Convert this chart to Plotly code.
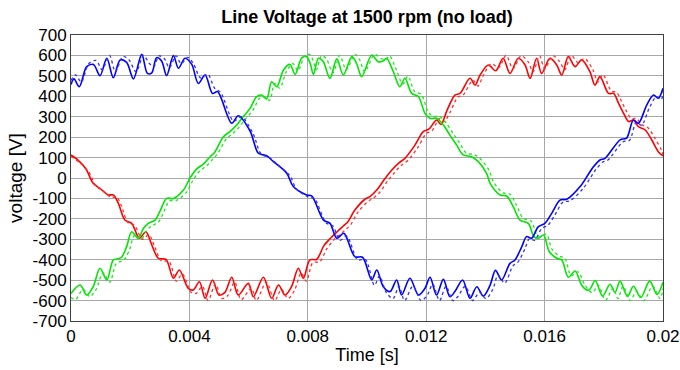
import numpy as np
import plotly.graph_objects as go

# Line voltages, three phases: solid = measured, dotted = simulated.
# Time in milliseconds, voltage in volts.

blue_t = [0.00, 0.10, 0.28, 0.53, 0.76, 0.98, 1.21, 1.43, 1.66, 1.88, 2.11, 2.39, 2.58, 2.73, 2.89,
          3.06, 3.23, 3.46, 3.63, 3.85, 4.08, 4.30, 4.53, 4.78, 4.95, 5.43, 5.65, 6.05, 6.33, 6.61,
          6.84, 7.29, 7.51, 7.96, 8.13, 8.53, 8.75, 8.98, 9.22, 9.59, 9.85, 10.16, 10.33, 10.55,
          10.78, 11.00, 11.17, 11.45, 11.74, 11.96, 12.13, 12.35, 12.58, 12.80, 12.97, 13.23, 13.48,
          13.71, 13.93, 14.16, 14.34, 14.55, 14.83, 15.00, 15.23, 15.39, 15.56, 15.79, 16.01, 16.24,
          16.52, 16.75, 17.20, 17.50, 17.65, 17.87, 18.04, 18.55, 18.77, 19.00, 19.17, 19.45, 19.68,
          19.84, 20.00]
blue_v = [458, 485, 447, 545, 556, 501, 586, 491, 578, 566, 485, 605, 512, 515, 589,
          573, 501, 599, 537, 586, 556, 463, 504, 414, 423, 268, 305, 230, 121, 109,
          80, 23, -42, -83, -88, -206, -222, -295, -271, -385, -388, -499, -450, -532,
          -556, -499, -573, -491, -573, -540, -486, -573, -496, -581, -556, -499, -589,
          -532, -578, -524, -452, -499, -418, -401, -336, -287, -295, -238, -222, -173,
          -108, -104, -42, 23, 55, 88, 96, 187, 195, 284, 268, 357, 406,
          390, 439]

blue_sim_t = [0.00, 0.15, 0.35, 0.60, 0.85, 1.05, 1.30, 1.50, 1.75, 1.95, 2.20, 2.45, 2.65, 2.80, 2.97,
              3.15, 3.32, 3.55, 3.72, 3.95, 4.15, 4.38, 4.62, 4.85, 5.05, 5.50, 5.75, 6.15, 6.42, 6.70,
              6.95, 7.40, 7.62, 8.05, 8.22, 8.62, 8.85, 9.08, 9.32, 9.68, 9.95, 10.25, 10.42, 10.65,
              10.88, 11.08, 11.27, 11.55, 11.83, 12.05, 12.22, 12.45, 12.67, 12.90, 13.07, 13.32, 13.57,
              13.80, 14.02, 14.25, 14.43, 14.65, 14.93, 15.10, 15.33, 15.49, 15.66, 15.90, 16.11, 16.34,
              16.62, 16.85, 17.30, 17.60, 17.75, 17.97, 18.14, 18.65, 18.87, 19.10, 19.27, 19.55, 19.78,
              19.94, 20.00]
blue_sim_v = [478, 505, 470, 560, 575, 530, 600, 520, 595, 580, 520, 600, 560, 545, 598,
              585, 540, 598, 560, 590, 555, 490, 508, 440, 420, 278, 300, 218, 118, 100,
              70, 10, -55, -95, -100, -220, -235, -305, -285, -400, -400, -525, -480, -560,
              -590, -530, -600, -530, -600, -570, -520, -600, -530, -600, -580, -530, -600,
              -560, -590, -545, -475, -515, -430, -412, -348, -297, -305, -248, -232, -183,
              -118, -112, -52, 13, 45, 78, 88, 177, 185, 274, 258, 347, 398,
              385, 420]

red_t = [0.00, 0.20, 0.50, 0.75, 0.98, 1.26, 1.43, 1.60, 1.82, 2.05, 2.31, 2.53, 2.73, 2.95, 3.21,
         3.46, 3.66, 3.96, 4.13, 4.34, 4.53, 4.78, 5.00, 5.20, 5.43, 5.65, 5.99, 6.16, 6.50, 6.78,
         7.01, 7.23, 7.45, 7.68, 7.85, 8.07, 8.30, 8.55, 8.80, 9.00, 9.20, 9.35, 9.59, 9.93, 10.10,
         10.33, 10.61, 10.84, 11.06, 11.28, 11.62, 11.90, 12.10, 12.35, 12.50, 12.70, 12.97, 13.14,
         13.48, 13.65, 13.82, 14.10, 14.35, 14.60, 14.83, 15.11, 15.34, 15.51, 15.73, 15.90, 16.18,
         16.41, 16.58, 16.80, 17.03, 17.25, 17.53, 17.70, 17.87, 18.16, 18.33, 18.50, 18.67, 18.84,
         19.00, 19.17, 19.40, 19.62, 19.84, 20.00]
red_v = [113, 92, 45, -26, -51, -83, -83, -124, -206, -222, -295, -263, -328, -393, -398,
         -491, -450, -540, -548, -508, -589, -499, -573, -560, -486, -573, -516, -581, -486, -589,
         -524, -573, -532, -442, -491, -401, -398, -330, -290, -262, -235, -215, -157, -104, -91,
         -59, -2, 39, 72, 96, 161, 227, 240, 284, 262, 330, 406, 414,
         488, 455, 504, 553, 525, 586, 512, 586, 553, 488, 586, 512, 586,
         553, 504, 594, 545, 578, 521, 455, 496, 414, 414, 365, 316, 276,
         284, 251, 235, 186, 129, 109]

red_sim_t = [0.00, 0.30, 0.60, 0.85, 1.08, 1.36, 1.53, 1.70, 1.92, 2.15, 2.41, 2.63, 2.83, 3.05, 3.31,
             3.56, 3.76, 4.06, 4.23, 4.44, 4.63, 4.88, 5.10, 5.30, 5.53, 5.75, 6.09, 6.26, 6.60, 6.88,
             7.11, 7.33, 7.55, 7.78, 7.95, 8.17, 8.40, 8.65, 8.90, 9.10, 9.30, 9.45, 9.69, 10.03, 10.20,
             10.43, 10.71, 10.94, 11.16, 11.38, 11.72, 12.00, 12.20, 12.45, 12.60, 12.80, 13.07, 13.24,
             13.58, 13.75, 13.92, 14.20, 14.45, 14.70, 14.93, 15.21, 15.44, 15.61, 15.83, 16.00, 16.28,
             16.51, 16.68, 16.90, 17.13, 17.35, 17.63, 17.80, 17.97, 18.26, 18.43, 18.60, 18.77, 18.94,
             19.10, 19.27, 19.50, 19.72, 19.94, 20.00]
red_sim_v = [105, 75, 30, -40, -62, -95, -92, -135, -218, -232, -300, -278, -338, -405, -408,
             -505, -470, -560, -565, -530, -600, -520, -590, -575, -510, -595, -540, -600, -510, -600,
             -545, -590, -550, -465, -505, -415, -410, -345, -300, -275, -250, -228, -168, -115, -100,
             -70, -12, 28, 62, 86, 150, 218, 232, 290, 275, 320, 396, 405,
             478, 450, 500, 560, 540, 600, 535, 598, 570, 520, 598, 535, 598,
             570, 530, 600, 565, 585, 530, 470, 505, 425, 420, 375, 326, 290,
             292, 262, 245, 196, 139, 115]

green_t = [0.00, 0.31, 0.53, 0.75, 0.98, 1.21, 1.43, 1.60, 1.71, 1.88, 2.05, 2.27, 2.45, 2.61, 2.84,
           3.00, 3.23, 3.46, 3.80, 4.02, 4.25, 4.47, 4.70, 4.85, 5.15, 5.37, 5.60, 5.77, 6.05, 6.27,
           6.44, 6.61, 6.78, 6.95, 7.18, 7.40, 7.57, 7.80, 7.96, 8.08, 8.19, 8.36, 8.52, 8.75, 8.98,
           9.20, 9.49, 9.65, 9.82, 10.16, 10.38, 10.54, 10.66, 10.89, 11.11, 11.28, 11.51, 11.74,
           11.96, 12.13, 12.35, 12.58, 12.80, 13.03, 13.25, 13.53, 13.76, 14.04, 14.16, 14.50, 14.72,
           14.94, 15.17, 15.45, 15.64, 15.79, 15.96, 16.16, 16.41, 16.58, 16.80, 17.03, 17.25, 17.42,
           17.53, 17.71, 17.96, 18.21, 18.38, 18.55, 18.80, 19.00, 19.25, 19.55, 19.80, 20.00]
green_v = [-565, -524, -573, -532, -442, -499, -401, -395, -388, -336, -263, -295, -246, -222, -206,
           -165, -100, -100, -59, 0, 45, 68, 104, 125, 202, 227, 259, 292, 341, 398,
           406, 387, 471, 447, 529, 556, 507, 589, 594, 561, 507, 586, 570, 488, 583,
           504, 594, 560, 496, 602, 569, 573, 586, 520, 447, 488, 414, 398,
           316, 292, 292, 259, 210, 161, 113, 104, 80, 23, -26, -83, -88,
           -140, -206, -222, -287, -295, -279, -361, -393, -401, -486, -455, -524, -548,
           -545, -502, -578, -520, -560, -505, -580, -530, -585, -505, -570, -510]

green_sim_t = [0.00, 0.15, 0.41, 0.63, 0.85, 1.08, 1.31, 1.53, 1.70, 1.81, 1.98, 2.15, 2.37, 2.55, 2.71,
               2.94, 3.10, 3.33, 3.56, 3.90, 4.12, 4.35, 4.57, 4.80, 4.95, 5.25, 5.47, 5.70, 5.87, 6.15,
               6.37, 6.54, 6.71, 6.88, 7.05, 7.28, 7.50, 7.67, 7.90, 8.06, 8.18, 8.29, 8.46, 8.62, 8.85,
               9.08, 9.30, 9.59, 9.75, 9.92, 10.26, 10.48, 10.64, 10.76, 10.99, 11.21, 11.38, 11.61,
               11.84, 12.06, 12.23, 12.45, 12.68, 12.90, 13.13, 13.35, 13.63, 13.86, 14.14, 14.26, 14.60,
               14.82, 15.04, 15.27, 15.55, 15.74, 15.89, 16.06, 16.26, 16.51, 16.68, 16.90, 17.13, 17.35,
               17.52, 17.63, 17.81, 18.06, 18.31, 18.48, 18.65, 18.90, 19.10, 19.35, 19.65, 19.90, 20.00]
green_sim_v = [-585, -595, -545, -580, -545, -465, -510, -418, -408, -398, -350, -280, -300, -258, -235,
               -218, -178, -112, -110, -70, -12, 35, 58, 94, 118, 192, 218, 252, 285, 332,
               390, 398, 380, 462, 440, 522, 560, 525, 600, 605, 575, 530, 598, 585, 515,
               600, 530, 605, 580, 520, 605, 585, 580, 598, 530, 460, 498, 424,
               408, 326, 302, 302, 269, 220, 171, 123, 114, 90, 33, -16, -73,
               -78, -130, -196, -212, -277, -288, -275, -351, -383, -392, -478, -460, -520,
               -555, -560, -525, -598, -540, -590, -530, -600, -555, -600, -530, -590, -540]

x_ticks = [0, 0.004, 0.008, 0.012, 0.016, 0.02]
x_tick_labels = ["0", "0.004", "0.008", "0.012", "0.016", "0.02"]
y_ticks = list(range(-700, 701, 100))
y_tick_labels = [str(v) for v in y_ticks]

FONT = "Liberation Sans, Arial, sans-serif"

series = [
    (red_t, red_v, "#ff0000", "solid", 1.6),
    (red_sim_t, red_sim_v, "#ff3030", "dot", 1.3),
    (green_t, green_v, "#00e600", "solid", 1.6),
    (green_sim_t, green_sim_v, "#20e620", "dot", 1.3),
    (blue_t, blue_v, "#0000ff", "solid", 1.6),
    (blue_sim_t, blue_sim_v, "#3030ff", "dot", 1.3),
]

fig = go.Figure()
for t, v, color, dash, width in series:
    fig.add_trace(go.Scatter(
        x=np.asarray(t) / 1000.0, y=v, mode="lines",
        line=dict(color=color, dash=dash, width=width, shape="spline", smoothing=0.9),
        showlegend=False, hoverinfo="skip",
    ))

axis_common = dict(
    showline=True, mirror=True, linecolor="#404040", linewidth=1,
    showgrid=True, gridcolor="#a8a8a8", gridwidth=1,
    zeroline=False, ticks="", automargin=False,
    tickfont=dict(family=FONT, size=17, color="#000"),
)

fig.update_layout(
    width=680, height=370, autosize=False,
    margin=dict(l=71, r=17, t=35, b=49),
    paper_bgcolor="white", plot_bgcolor="white",
    title=dict(text="<b>Line Voltage at 1500 rpm (no load)</b>",
               font=dict(family=FONT, size=18, color="#000"),
               x=(71 + 367 - 71) / 680, xanchor="center", y=1 - 17 / 370, yanchor="middle",
               xref="container", yref="container"),
    xaxis=dict(range=[0, 0.02], tickvals=x_ticks, ticktext=x_tick_labels,
               title=dict(text="Time [s]", font=dict(family=FONT, size=18, color="#000"), standoff=2),
               **axis_common),
    yaxis=dict(range=[-700, 700], tickvals=y_ticks, ticktext=y_tick_labels,
               title=dict(text="voltage [V]", font=dict(family=FONT, size=19, color="#000"), standoff=4),
               **axis_common),
)

fig.write_html("out.html", config={"displayModeBar": False})
